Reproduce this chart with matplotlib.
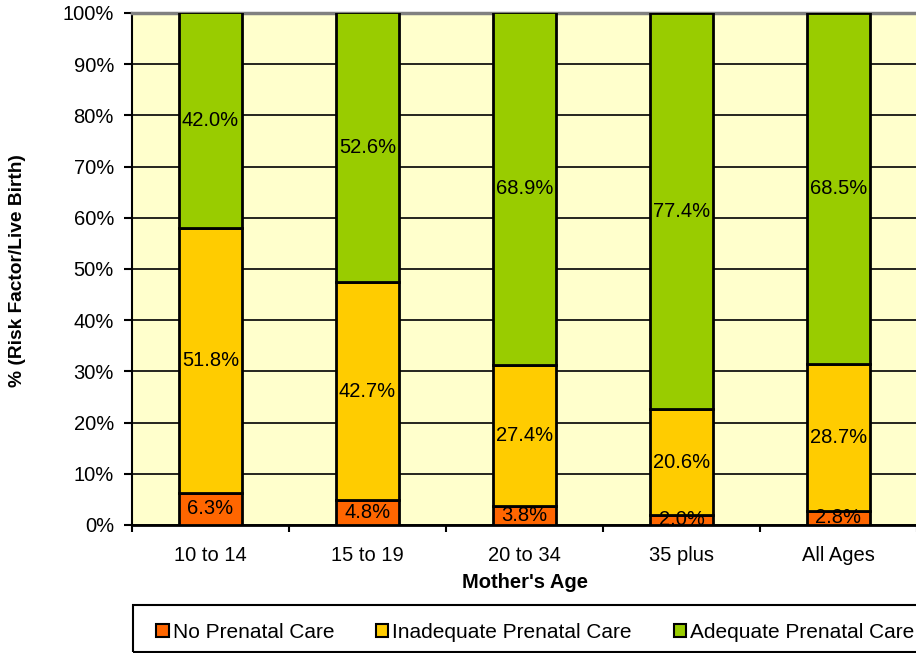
import matplotlib.pyplot as plt
from matplotlib.patches import Rectangle
import numpy as np

plt.rcParams['font.family'] = ['Liberation Sans', 'DejaVu Sans']

ages = ['10 to 14', '15 to 19', '20 to 34', '35 plus', 'All Ages']
no_care = [6.3, 4.8, 3.8, 2.0, 2.8]
inadequate = [51.8, 42.7, 27.4, 20.6, 28.7]
adequate = [42.0, 52.6, 68.9, 77.4, 68.5]
series = [('No Prenatal Care', no_care, '#FF6600'),
          ('Inadequate Prenatal Care', inadequate, '#FFCC00'),
          ('Adequate Prenatal Care', adequate, '#99CC00')]

fs = 14.5
W, H = 916, 653

fig = plt.figure(figsize=(W/100, H/100), dpi=100)
ax = fig.add_axes([132/W, 1-525/H, 785/W, 512/H])
ax.set_facecolor('#FFFFCC')

x = np.arange(len(ages))
bottom = np.zeros(len(ages))
for name, vals, col in series:
    vals = np.array(vals)
    ax.bar(x, vals, 0.4, bottom=bottom, color=col, edgecolor='black',
           linewidth=2, label=name, zorder=3)
    for xi, b, v in zip(x, bottom, vals):
        ax.text(xi, b + v/2, f'{v:.1f}%', ha='center', va='center',
                fontsize=fs, zorder=4)
    bottom += vals

ax.set_xlim(-0.5, len(ages)-0.5)
ax.set_ylim(0, 100)
ax.set_yticks(np.arange(0, 101, 10))
ax.set_yticklabels([f'{v}%' for v in range(0, 101, 10)], fontsize=fs)
ax.yaxis.grid(True, color='black', linewidth=1.2, zorder=1)
ax.set_axisbelow(True)
ax.set_xticks(x)
ax.set_xticklabels(ages, fontsize=fs)
ax.set_xticks(np.arange(-0.5, len(ages), 1), minor=True)
ax.tick_params(axis='x', which='major', length=0, pad=15)
ax.tick_params(axis='x', which='minor', length=5, width=1.5, direction='out')
ax.tick_params(axis='y', length=6, width=1.5, pad=7)
ax.spines['top'].set_color('#808080')
ax.spines['top'].set_linewidth(2.5)
ax.spines['right'].set_visible(False)
ax.spines['left'].set_linewidth(1.5)
ax.spines['bottom'].set_linewidth(2)

ax.set_xlabel("Mother's Age", fontsize=fs, fontweight='bold', labelpad=6)
fig.text(18/W, 1-271/H, '% (Risk Factor/Live Birth)', rotation=90,
         ha='center', va='center', fontsize=13.8, fontweight='bold')

# legend box drawn separately so contents can sit where Excel puts them
fig.patches.append(Rectangle((133/W, 1.5/H), 800/W, 46.5/H,
                             transform=fig.transFigure, fill=False,
                             edgecolor='black', linewidth=1.5))
leg = fig.legend(loc='center left', ncol=3,
                 bbox_to_anchor=(156/W, 1-632/H),
                 fontsize=15, frameon=False,
                 handlelength=0.6, handleheight=0.6, handletextpad=0.2,
                 columnspacing=2.0, borderaxespad=0, borderpad=0)
for h in leg.legend_handles:
    h.set_linewidth(1.5)

fig.savefig('out.png', dpi=100)
